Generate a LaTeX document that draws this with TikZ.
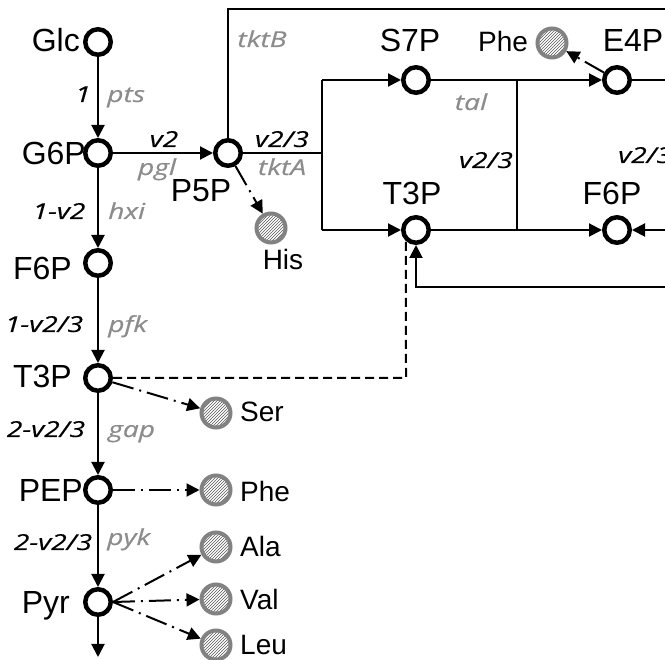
\documentclass[tikz,border=0pt]{standalone}
\usepackage{fontspec}
\setmainfont{Liberation Sans}
\newfontfamily\labfont[FakeBold=0.35]{Open Sans}
\usetikzlibrary{arrows.meta,patterns}
\definecolor{lblgray}{RGB}{140,140,140}
\definecolor{aagray}{RGB}{130,130,130}
\begin{document}
\begin{tikzpicture}[x=1pt,y=-1pt,
  met/.style={circle,draw=black,line width=4.5pt,minimum size=25.5pt,inner sep=0pt,fill=white},
  aa/.style={circle,draw=aagray,line width=4pt,minimum size=29pt,inner sep=0pt,pattern=north east lines,pattern color=black!65},
  mtext/.style={font=\fontsize{32}{32}\selectfont,inner sep=0pt},
  atext/.style={font=\fontsize{28}{28}\selectfont,inner sep=0pt},
  flux/.style={font=\labfont\itshape\fontsize{22}{22}\selectfont,inner sep=0pt,xscale=1.28},
  enz/.style={flux,text=lblgray},
  conn/.style={line width=2pt},
  arr/.style={conn,-{Triangle[length=13pt,width=13pt]}},
  dd/.style={arr,dash pattern=on 22pt off 6pt on 2pt off 6pt},
  dsh/.style={conn,dash pattern=on 9pt off 5pt},
  ]
\useasboundingbox (0,0) rectangle (665,660);

% metabolite circles
\node[met] (glc) at (98,42) {};
\node[met] (g6p) at (98,153) {};
\node[met] (f6p) at (98,263) {};
\node[met] (t3p) at (98,378) {};
\node[met] (pep) at (98,490) {};
\node[met] (pyr) at (98,602) {};
\node[met] (p5p) at (228,153) {};
\node[met] (s7p) at (416,80) {};
\node[met] (t3pb) at (416,230) {};
\node[met] (e4p) at (617,80) {};
\node[met] (f6pb) at (617,230) {};

% amino acid circles
\node[aa] (his) at (271,228) {};
\node[aa] (ser) at (216,413) {};
\node[aa] (phe) at (216,490) {};
\node[aa] (ala) at (216,547) {};
\node[aa] (val) at (216,599) {};
\node[aa] (leu) at (216,645) {};
\node[aa] (pheb) at (552,43) {};

% coordinates
\coordinate (pyrout) at (98,657);
\coordinate (topR) at (665,9);
\coordinate (jA) at (322,153);
\coordinate (jAt) at (322,80);
\coordinate (jAb) at (322,230);
\coordinate (jBt) at (517,80);
\coordinate (jBb) at (517,230);
\coordinate (eR) at (665,80);
\coordinate (fR) at (665,230);
\coordinate (retR) at (665,287);
\coordinate (dcorner) at (406,378);

% main connectors
\draw[arr] (glc) -- (g6p);
\draw[arr] (g6p) -- (p5p);
\draw[arr] (g6p) -- (f6p);
\draw[arr] (f6p) -- (t3p);
\draw[arr] (t3p) -- (pep);
\draw[arr] (pep) -- (pyr);
\draw[arr] (pyr) -- (pyrout);
\draw[conn] (p5p) -- (p5p |- topR) -- (topR);
\draw[conn] (p5p) -- (jA);
\draw[conn] (jAt) -- (jAb);
\draw[arr] (jAt) -- (s7p);
\draw[arr] (jAb) -- (t3pb);
\draw[arr] (s7p) -- (e4p);
\draw[arr] (t3pb) -- (f6pb);
\draw[conn] (jBt) -- (jBb);
\draw[conn] (e4p) -- (eR);
\draw[arr] (fR) -- (f6pb);
\draw[arr] (retR) -| (t3pb);
\draw[dsh] (t3p) -- (dcorner) -- (t3pb.228);

% amino acid drains
\draw[dd] (p5p) -- (his);
\draw[dd] (t3p) -- (ser);
\draw[dd] (pep) -- (phe);
\draw[dd] (pyr.east) -- (ala);
\draw[dd] (pyr.east) -- (val);
\draw[dd] (pyr.east) -- (leu);
\draw[dd] (e4p) -- (pheb);

% metabolite labels
\node[mtext,anchor=base east] (lglc) at (80,52) {Glc};
\node[mtext,anchor=base east] (lg6p) at (86,165) {G6P};
\node[mtext,anchor=base east] (lf6p) at (72,280) {F6P};
\node[mtext,anchor=base east] (lt3p) at (72,388) {T3P};
\node[mtext,anchor=base east] (lpep) at (83,502) {PEP};
\node[mtext,anchor=base east] (lpyr) at (70,613) {Pyr};
\node[mtext,anchor=base] (lp5p) at (201,202) {P5P};
\node[mtext,anchor=base] (ls7p) at (410,52) {S7P};
\node[mtext,anchor=base] (lt3pb) at (412,205) {T3P};
\node[mtext,anchor=base] (le4p) at (633,52) {E4P};
\node[mtext,anchor=base] (lf6pb) at (612,205) {F6P};

% amino acid labels
\node[atext,anchor=base] (lhis) at (283,270) {His};
\node[atext,anchor=base west] (lser) at (240,422) {Ser};
\node[atext,anchor=base west] (lphe) at (240,502) {Phe};
\node[atext,anchor=base west] (lala) at (240,557) {Ala};
\node[atext,anchor=base west] (lval) at (240,610) {Val};
\node[atext,anchor=base west] (lleu) at (240,655) {Leu};
\node[atext,anchor=base west] (lpheb) at (478,52) {Phe};

% flux labels
\node[flux,anchor=base] (f1) at (83,102) {1};
\node[flux,anchor=base] (f2) at (164,147) {v2};
\node[flux,anchor=base] (f3) at (282,147) {v2/3};
\node[flux,anchor=base] (f4) at (59,219) {1-v2};
\node[flux,anchor=base] (f5) at (44,332) {1-v2/3};
\node[flux,anchor=base] (f6) at (46,437) {2-v2/3};
\node[flux,anchor=base] (f7) at (53,550) {2-v2/3};
\node[flux,anchor=base] (f8) at (486,168) {v2/3};
\node[flux,anchor=base west] (f9) at (618,163) {v2/3};

% enzyme labels
\node[enz,anchor=base west] (epts) at (107,102) {pts};
\node[enz,anchor=base] (epgl) at (157,175) {pgl};
\node[enz,anchor=base] (etkta) at (282,175) {tktA};
\node[enz,anchor=base] (etktb) at (262,47) {tktB};
\node[enz,anchor=base west] (ehxi) at (108,219) {hxi};
\node[enz,anchor=base west] (epfk) at (108,332) {pfk};
\node[enz,anchor=base west] (egap) at (108,437) {gap};
\node[enz,anchor=base west] (epyk) at (107,545) {pyk};
\node[enz,anchor=base] (etal) at (471,110) {tal};
\end{tikzpicture}
\end{document}
